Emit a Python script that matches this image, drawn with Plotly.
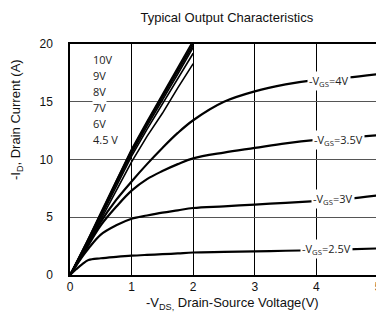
import plotly.graph_objects as go

# ---- data ----
vds_high = [0, 0.25, 0.5, 0.75, 1.0, 1.25, 1.5, 1.75, 2.0]
id_10v = [0, 2.6, 5.4, 8.2, 10.9, 13.3, 15.6, 17.9, 20.3]
id_9v = [0, 2.6, 5.3, 8.1, 10.8, 13.2, 15.5, 17.8, 20.1]
id_8v = [0, 2.5, 5.2, 8.0, 10.7, 13.1, 15.4, 17.6, 19.9]
id_7v = [0, 2.5, 5.1, 7.9, 10.5, 12.9, 15.1, 17.4, 19.7]
id_6v = [0, 2.4, 5.0, 7.7, 10.3, 12.6, 14.8, 17.0, 19.2]
id_45v = [0, 2.3, 4.8, 7.3, 9.8, 12.0, 14.0, 16.2, 18.3]

vds_low = [0, 0.1, 0.2, 0.3, 0.5, 0.75, 1.0, 1.25, 1.5, 1.75, 2.0, 2.5, 3.0, 3.5, 4.0, 4.5, 5.0]
id_4v = [0, 0.9, 1.8, 2.7, 4.6, 6.5, 8.1, 9.6, 11.0, 12.3, 13.4, 15.0, 15.9, 16.5, 16.9, 17.1, 17.4]
id_35v = [0, 0.85, 1.7, 2.6, 4.3, 5.9, 7.3, 8.3, 9.0, 9.6, 10.1, 10.6, 11.0, 11.4, 11.7, 11.9, 12.1]
id_3v = [0, 0.8, 1.6, 2.3, 3.5, 4.3, 4.87, 5.15, 5.4, 5.6, 5.8, 5.95, 6.1, 6.25, 6.4, 6.6, 6.9]
id_25v = [0, 0.5, 0.95, 1.3, 1.45, 1.57, 1.67, 1.74, 1.8, 1.87, 1.95, 2.0, 2.05, 2.1, 2.15, 2.22, 2.3]

high_labels = ["10V", "9V", "8V", "7V", "6V", "4.5 V"]
low_labels = ["-V<sub>GS</sub>=4V", "-V<sub>GS</sub>=3.5V", "-V<sub>GS</sub>=3V", "-V<sub>GS</sub>=2.5V"]
low_label_x = [4.2, 4.36, 4.27, 4.17]
low_label_y = [16.8, 11.7, 6.55, 2.26]

x_ticks = [0, 1, 2, 3, 4, 5]
y_ticks = [0, 5, 10, 15, 20]

fig = go.Figure()

for ys in [id_10v, id_9v, id_8v, id_7v, id_6v, id_45v]:
    fig.add_trace(go.Scatter(x=vds_high, y=ys, mode="lines",
                             line=dict(color="black", width=1.6), showlegend=False))
for ys in [id_4v, id_35v, id_3v, id_25v]:
    fig.add_trace(go.Scatter(x=vds_low, y=ys, mode="lines", line_shape="spline",
                             line=dict(color="black", width=2.2), showlegend=False))

font = "Liberation Sans, Arial, sans-serif"
lab_font = dict(family="Open Sans, sans-serif", size=11, color="#222")
annotations = []
for i, t in enumerate(high_labels):
    annotations.append(dict(x=0.36, y=18.7 - i * 1.39, xref="x", yref="y", text=t,
                            showarrow=False, xanchor="left", yanchor="middle",
                            font=lab_font, bgcolor="white", borderpad=0))
for t, lx, ly in zip(low_labels, low_label_x, low_label_y):
    annotations.append(dict(x=lx, y=ly, xref="x", yref="y", text=t, showarrow=False,
                            xanchor="center", yanchor="middle",
                            font=lab_font, bgcolor="white", borderpad=1))
# axis titles
annotations.append(dict(x=0.529, y=-0.123, xref="paper", yref="paper",
                        text="-V<sub>DS,</sub> Drain-Source Voltage(V)", showarrow=False,
                        xanchor="center", yanchor="middle",
                        font=dict(family=font, size=13, color="#111")))
annotations.append(dict(x=-0.172, y=0.671, xref="paper", yref="paper",
                        text="-I<sub>D</sub>, Drain Current (A)", showarrow=False,
                        textangle=-90, xanchor="center", yanchor="middle",
                        font=dict(family=font, size=13, color="#111")))

fig.update_layout(
    width=376, height=315,
    margin=dict(l=62, r=6, t=36, b=48, autoexpand=False),
    paper_bgcolor="white", plot_bgcolor="white",
    title=dict(text="Typical Output Characteristics", x=0.582, xanchor="center",
               y=0.97, yanchor="middle", font=dict(family=font, size=13, color="#111")),
    annotations=annotations,
    font=dict(family=font, color="#111"),
)
fig.update_xaxes(range=[0, 5], tickvals=x_ticks, showgrid=True, gridcolor="black", gridwidth=1,
                 showline=True, linecolor="black", linewidth=1.5, mirror=True,
                 ticks="", ticklabelstandoff=0, ticklabeloverflow="allow",
                 tickfont=dict(size=12, family=font), zeroline=False)
fig.update_yaxes(range=[0, 20], tickvals=y_ticks, showgrid=True, gridcolor="#555", gridwidth=1,
                 showline=True, linecolor="black", linewidth=1.5, mirror=True,
                 ticks="", ticklabelstandoff=13, ticklabeloverflow="allow",
                 tickfont=dict(size=12, family=font), zeroline=False)

fig.write_html("out.html")
